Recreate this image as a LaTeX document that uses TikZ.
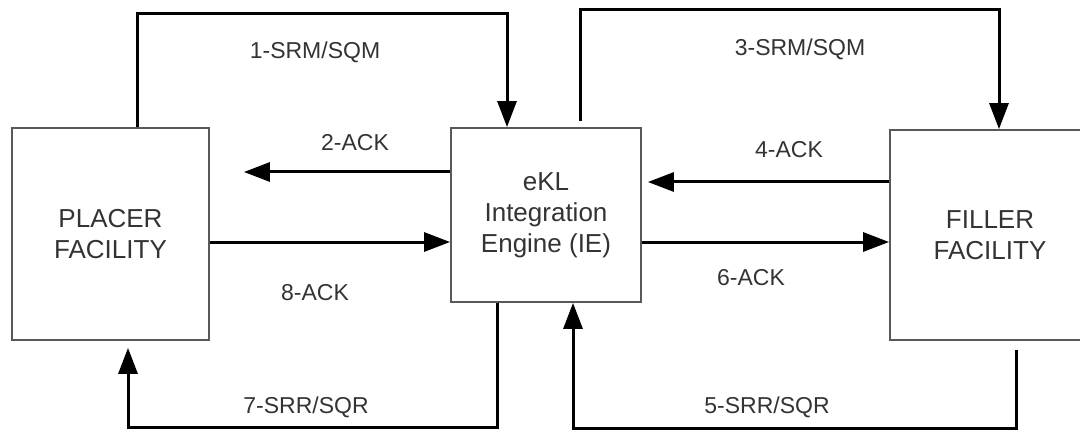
\documentclass[tikz,border=0pt]{standalone}
\usepackage{fontspec}
\setmainfont{Liberation Sans}
\usetikzlibrary{positioning,arrows.meta}
\tikzset{
>={Triangle[length=26pt,width=19pt]},
x=1pt, y=1pt,
facility/.style={draw=black!65, line width=1.8pt, rectangle, align=center,
  inner sep=0pt, text=black!80, font=\fontsize{26}{31}\selectfont},
msg/.style={->, line width=3pt},
lbl/.style={text=black!80, font=\fontsize{23}{27}\selectfont},
}

\begin{document}
\begin{tikzpicture}
        \useasboundingbox (0,0) rectangle (1080,432);
        \node[facility,minimum width=197pt,minimum height=212pt] (placer) at (110.5,198) {PLACER\\FACILITY};
        \node[facility,minimum width=190pt,minimum height=174pt] (ie) at (546,217) {eKL\\Integration\\Engine (IE)};
        \node[facility,minimum width=200pt,minimum height=210pt] (filler) at (990,197) {FILLER\\FACILITY};

        \draw[msg] ([xshift=26.5pt]placer.north) -- ++(0,114) -| ([xshift=-39pt]ie.north);
        \draw[msg] ([yshift=43pt]ie.west) -- ([xshift=34pt,yshift=62pt]placer.east);
        \draw[msg] ([xshift=34pt,yshift=6pt]ie.north) -- ++(0,112) -| ([xshift=9pt]filler.north);
        \draw[msg] ([yshift=53pt]filler.west) -- ([xshift=6pt,yshift=33pt]ie.east);
        \draw[msg] ([xshift=26pt,yshift=-9pt]filler.south) -- ++(0,-79) -| ([xshift=27pt]ie.south);
        \draw[msg] ([yshift=-27pt]ie.east) -- ([yshift=-7pt]filler.west);
        \draw[msg] ([xshift=-49pt]ie.south) -- ++(0,-125) -| ([xshift=17.5pt,yshift=-7pt]placer.south);
        \draw[msg] ([yshift=-8pt]placer.east) -- ([yshift=-27pt]ie.west);

        \node[lbl] (m1) at (315,380) {1-SRM/SQM};
        \node[lbl] (m2) at (355,289) {2-ACK};
        \node[lbl] (m3) at (800,383) {3-SRM/SQM};
        \node[lbl] (m4) at (789,282) {4-ACK};
        \node[lbl] (m5) at (767,25) {5-SRR/SQR};
        \node[lbl] (m6) at (751,154) {6-ACK};
        \node[lbl] (m7) at (306,25) {7-SRR/SQR};
        \node[lbl] (m8) at (315,139) {8-ACK};
    \end{tikzpicture}
\end{document}
